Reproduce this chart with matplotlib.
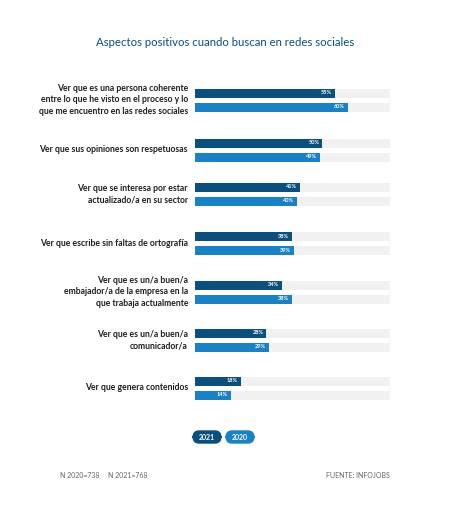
import matplotlib.pyplot as plt
from matplotlib.patches import FancyBboxPatch

categories = [
    "Ver que es una persona coherente\nentre lo que he visto en el proceso y lo\nque me encuentro en las redes sociales",
    "Ver que sus opiniones son respetuosas",
    "Ver que se interesa por estar\nactualizado/a en su sector",
    "Ver que escribe sin faltas de ortografía",
    "Ver que es un/a buen/a\nembajador/a de la empresa en la\nque trabaja actualmente",
    "Ver que es un/a buen/a\ncomunicador/a",
    "Ver que genera contenidos",
]
v2021 = [55, 50, 41, 38, 34, 28, 18]
v2020 = [60, 49, 40, 39, 38, 29, 14]

# layout (pixel rows of each group)
row_y = [100, 150, 194, 243, 292, 340, 388]
W, H = 449, 526
dark, light, track = "#0b4f7c", "#1a82c4", "#f1f1f1"
trackmax = 76.5
plt.rcParams['font.family'] = ['Lato', 'DejaVu Sans']

fig = plt.figure(figsize=(W / 100, H / 100), dpi=100)
fig.patch.set_facecolor("white")
ax = fig.add_axes([195 / W, 0, 195 / W, 1])
ax.set_xlim(0, trackmax)
ax.set_ylim(H, 0)
ax.axis("off")

bh = 9
for y, a, b, lab in zip(row_y, v2021, v2020, categories):
    for yy, v, c in ((y - 7, a, dark), (y + 7, b, light)):
        ax.barh(yy, trackmax, height=bh, color=track)
        ax.barh(yy, v, height=bh, color=c)
        ax.text(v - 1.2, yy, f"{v}%", color="white", fontsize=4,
                ha="right", va="center", fontweight="bold")
    fig.text(188 / W, 1 - y / H, lab, ha="right", va="center", fontsize=6.2,
             color="#1e1e1e", linespacing=1.3, fontweight="bold")

fig.text(225 / W, 1 - 42 / H, "Aspectos positivos cuando buscan en redes sociales",
         ha="center", va="center", fontsize=8.2, color="#0b4f7c")

# legend pills
for cx, c, t in ((207, dark, "2021"), (240, light, "2020")):
    p = FancyBboxPatch(((cx - 14) / W, 1 - 443 / H), 28 / W, 12 / H,
                       boxstyle="round,pad=0,rounding_size=0.013",
                       transform=fig.transFigure, color=c)
    fig.patches.append(p)
    fig.text(cx / W, 1 - 437 / H, t, ha="center", va="center", fontsize=5,
             color="white", fontweight="bold")

fig.text(60 / W, 1 - 475 / H, "N 2020=738", fontsize=5, color="#666666", va="center")
fig.text(108 / W, 1 - 475 / H, "N 2021=768", fontsize=5, color="#666666", va="center")
fig.text(390 / W, 1 - 475 / H, "FUENTE: INFOJOBS", fontsize=5, color="#666666",
         va="center", ha="right")

fig.savefig("out.png", dpi=100)
